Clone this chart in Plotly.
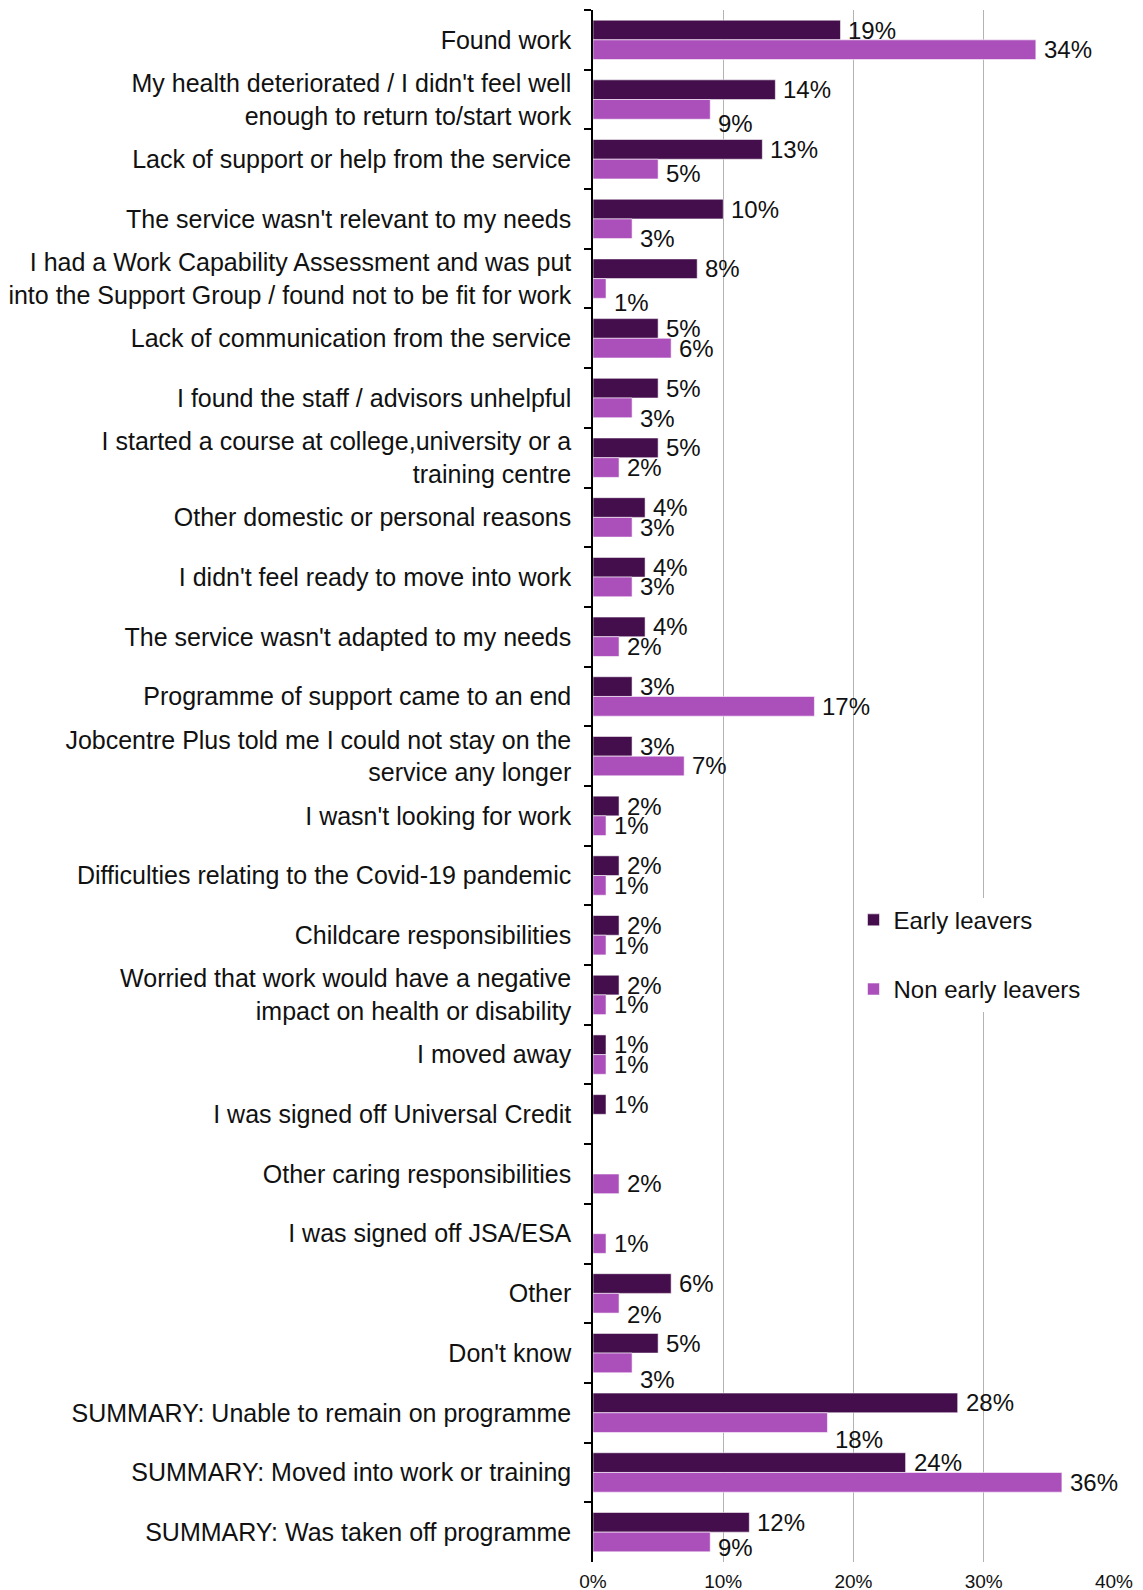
import plotly.graph_objects as go

# Reasons for leaving the programme, top to bottom
categories = [
    "Found work",
    "My health deteriorated / I didn't feel well<br>enough to return to/start work",
    "Lack of support or help from the service",
    "The service wasn't relevant to my needs",
    "I had a Work Capability Assessment and was put<br>into the Support Group / found not to be fit for work",
    "Lack of communication from the service",
    "I found the staff / advisors unhelpful",
    "I started a course at college,university or a<br>training centre",
    "Other domestic or personal reasons",
    "I didn't feel ready to move into work",
    "The service wasn't adapted to my needs",
    "Programme of support came to an end",
    "Jobcentre Plus told me I could not stay on the<br>service any longer",
    "I wasn't looking for work",
    "Difficulties relating to the Covid-19 pandemic",
    "Childcare responsibilities",
    "Worried that work would have a negative<br>impact on health or disability",
    "I moved away",
    "I was signed off Universal Credit",
    "Other caring responsibilities",
    "I was signed off JSA/ESA",
    "Other",
    "Don't know",
    "SUMMARY: Unable to remain on programme",
    "SUMMARY: Moved into work or training",
    "SUMMARY: Was taken off programme",
]

# Percentages (None = no response in that group)
early_leavers = [19, 14, 13, 10, 8, 5, 5, 5, 4, 4, 4, 3, 3, 2, 2, 2, 2, 1, 1,
                 None, None, 6, 5, 28, 24, 12]
non_early_leavers = [34, 9, 5, 3, 1, 6, 3, 2, 3, 3, 2, 17, 7, 1, 1, 1, 1, 1, None,
                     2, 1, 2, 3, 18, 36, 9]

# Extra downward nudge (px) for some lower-bar labels so they clear the bars
label_drop_non_early = {1: 14, 2: 4, 3: 10, 4: 14, 6: 11, 21: 11, 22: 17, 23: 17, 25: 6}

DARK = "#440d4c"
LIGHT = "#ab50bb"
FONT = "Liberation Sans, Arial, sans-serif"
TEXT = "#111111"

fig = go.Figure()
fig.add_trace(go.Bar(
    y=categories, x=early_leavers, orientation="h", name="Early leavers",
    marker=dict(color=DARK, line=dict(color="rgba(255,255,255,0.7)", width=0.8)),
    legendgroup="a", hoverinfo="x+y",
))
fig.add_trace(go.Bar(
    y=categories, x=non_early_leavers, orientation="h", name="Non early leavers",
    marker=dict(color=LIGHT, line=dict(color="rgba(255,255,255,0.7)", width=0.8)),
    legendgroup="b", hoverinfo="x+y",
))

# Plot-area geometry used to place value labels beside each sub-bar
plot_top, plot_bottom = 10, 28
fig_h = 1590
band = (fig_h - plot_top - plot_bottom) / len(categories)
bargap = 0.34
half_bar = band * (1 - bargap) / 4

annotations = []
for i, cat in enumerate(categories):
    v = early_leavers[i]
    if v is not None:
        annotations.append(dict(
            x=v, y=cat, xref="x", yref="y", text=f"{v}%", showarrow=False,
            xanchor="left", yanchor="middle", xshift=6, yshift=half_bar,
            font=dict(family=FONT, size=24, color=TEXT),
        ))
    v = non_early_leavers[i]
    if v is not None:
        annotations.append(dict(
            x=v, y=cat, xref="x", yref="y", text=f"{v}%", showarrow=False,
            xanchor="left", yanchor="middle", xshift=6,
            yshift=-half_bar - label_drop_non_early.get(i, 0),
            font=dict(family=FONT, size=24, color=TEXT),
        ))

fig.update_layout(
    width=1143, height=fig_h,
    margin=dict(l=593, r=29, t=plot_top, b=plot_bottom, pad=0),
    paper_bgcolor="white", plot_bgcolor="white",
    barmode="group", bargap=bargap, bargroupgap=0,
    font=dict(family=FONT, color=TEXT),
    annotations=annotations,
    legend=dict(
        x=0.50, y=0.428, xanchor="left", yanchor="top",
        bgcolor="white", borderwidth=0,
        font=dict(family=FONT, size=24, color=TEXT),
        traceorder="grouped", tracegroupgap=35,
    ),
    xaxis=dict(
        range=[0, 40], dtick=10, ticksuffix="%",
        showgrid=True, gridcolor="#b3b3b3", gridwidth=1,
        zeroline=False, showline=False, ticks="",
        tickfont=dict(family=FONT, size=19, color=TEXT),
        ticklabelstandoff=6, automargin=False,
        fixedrange=True,
    ),
    yaxis=dict(
        type="category", autorange="reversed",
        showline=True, linecolor="#000000", linewidth=1.5,
        ticks="outside", tickson="boundaries", ticklen=7, tickcolor="#000000",
        tickwidth=1.5, showgrid=False,
        tickfont=dict(family=FONT, size=25, color=TEXT),
        ticklabelstandoff=15, automargin=False,
        fixedrange=True,
    ),
)

fig.write_html("out.html")
